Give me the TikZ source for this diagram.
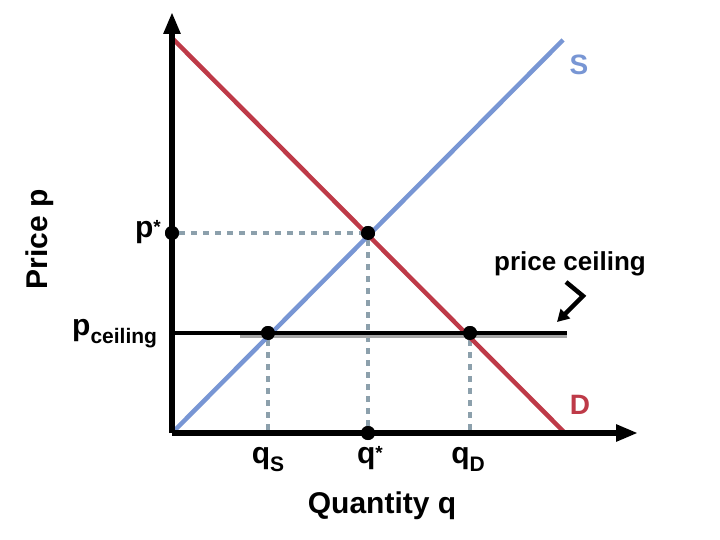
\documentclass[tikz,border=0pt]{standalone}
\usepackage{fontspec}
\setmainfont{Liberation Sans}
\usetikzlibrary{arrows.meta}
\definecolor{supc}{RGB}{120,150,212}
\definecolor{demc}{RGB}{190,58,72}
\definecolor{dotc}{RGB}{140,160,172}
\newcommand{\subx}[1]{\raisebox{-8pt}{\fontsize{21}{24}\selectfont #1}}
\newcommand{\astx}{\raisebox{4pt}{\fontsize{19}{22}\selectfont *}}
\begin{document}
\begin{tikzpicture}[x=1pt,y=-1pt,
  axis/.style={line width=5.5pt,-{Triangle[length=22pt,width=16pt]}},
  curve/.style={line width=4.5pt},
  guide/.style={dotc,line width=4pt,dash pattern=on 6pt off 6pt},
  pt/.style={circle,fill=black,inner sep=0pt,minimum size=14pt},
  lab/.style={font=\fontsize{30}{34}\selectfont\bfseries,inner sep=0pt},
  slab/.style={font=\fontsize{26}{30}\selectfont\bfseries,inner sep=0pt},
  clab/.style={font=\fontsize{28}{32}\selectfont\bfseries,inner sep=0pt}]
\useasboundingbox (0,0) rectangle (720,540);
\coordinate (O) at (172,433);
\coordinate (ytip) at (172,12);
\coordinate (xtip) at (638,433);
\coordinate (s0) at (172,433);
\coordinate (s1) at (563,40);
\coordinate (d0) at (172,38);
\coordinate (d1) at (565,433);
\coordinate (c0) at (172,333);
\coordinate (c1) at (567,333);
\coordinate (g0) at (240,336);
\coordinate (g1) at (567,336);
\node[pt] (E) at (368,233) {};
\node[pt] (pstar) at (172,233) {};
\node[pt] (qstar) at (368,433) {};
\node[pt] (A) at (268,333) {};
\node[pt] (B) at (470,333) {};
\coordinate (qsb) at (268,433);
\coordinate (qdb) at (470,433);
% guides
\draw[guide] (pstar) -- (E);
\draw[guide] (E) -- (qstar);
\draw[guide] (A) -- (qsb);
\draw[guide] (B) -- (qdb);
% curves
\draw[curve,supc] (s0) -- (s1);
\draw[curve,demc] (d0) -- (d1);
% ceiling
\draw[line width=3pt,black!35] (g0) -- (g1);
\draw[line width=4.5pt] (c0) -- (c1);
% axes
\draw[axis] (O) -- (ytip);
\draw[axis] (O) -- (xtip);
% dots on top
\node[pt] at (E) {};
\node[pt] at (pstar) {};
\node[pt] at (qstar) {};
\node[pt] at (A) {};
\node[pt] at (B) {};
% labels
\node[clab,text=supc] (Sl) at (579,65) {S};
\node[clab,text=demc] (Dl) at (580,405) {D};
\node[lab,anchor=base east] (pl) at (161,237) {p\astx};
\node[lab,anchor=base west] (pcl) at (72,335) {p\subx{ceiling}};
\node[lab,anchor=base] (qsl) at (268,463) {q\subx{S}};
\node[lab,anchor=base] (qsl2) at (370,463) {q\astx};
\node[lab,anchor=base] (qdl) at (468,463) {q\subx{D}};
\node[lab,anchor=base] (xl) at (382,513) {Quantity q};
\node[lab,rotate=90] (yl) at (40,239) {Price p};
\node[slab,anchor=base] (pc) at (570,270) {price ceiling};
\coordinate (h0) at (566,282);
\coordinate (h1) at (583,296);
\coordinate (h2) at (557,322);
\draw[line width=4.5pt,-{Triangle[length=12pt,width=13pt]}] (h0) -- (h1) -- (h2);
\end{tikzpicture}
\end{document}
